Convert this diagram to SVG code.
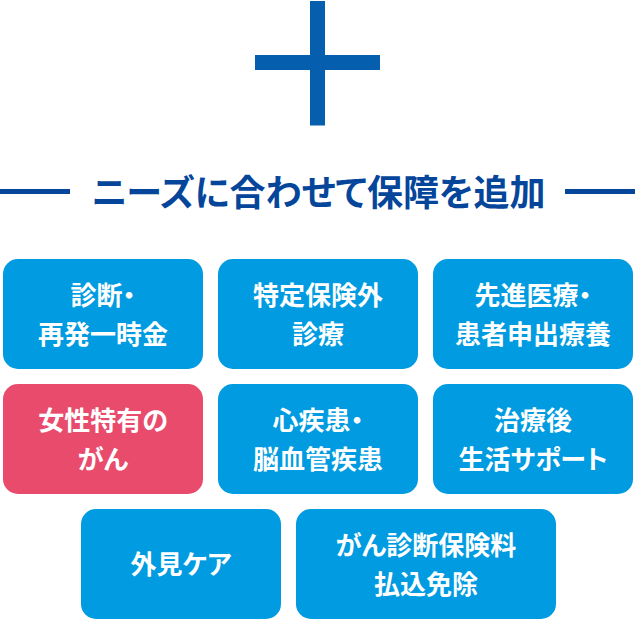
<svg xmlns="http://www.w3.org/2000/svg" width="635" height="619" viewBox="0 0 635 619">
<style>
.t{font-family:"Noto Sans CJK JP","Noto Sans",sans-serif;font-weight:700;font-size:26px;fill:#fff;text-anchor:middle;font-feature-settings:"palt"}
.b{fill:#009be0}
.p{fill:#e94b6c}
.h{font-family:"Noto Sans CJK JP","Noto Sans",sans-serif;font-weight:700;font-size:36px;fill:#05469b;text-anchor:middle;font-feature-settings:"palt"}
.s{fill:#055eae}
.l{fill:#05469b}
</style>
<g id="plus"><rect class="s" x="310" y="1" width="15" height="124.500"/><rect class="s" x="255" y="55" width="125" height="15"/></g>
<g id="heading"><rect class="l" x="0" y="189" width="70" height="5"/><rect class="l" x="565" y="189" width="70" height="5"/><text class="h" x="318.500" y="206">ニーズに合わせて保障を追加</text></g>
<g id="n1"><rect class="b" x="3" y="259" width="200" height="110" rx="15"/><text class="t" x="103" y="305">診断・</text><text class="t" x="103" y="343.500">再発一時金</text></g>
<g id="n2"><rect class="b" x="218" y="259" width="200" height="110" rx="15"/><text class="t" x="318" y="305">特定保険外</text><text class="t" x="318" y="343.500">診療</text></g>
<g id="n3"><rect class="b" x="433" y="259" width="200" height="110" rx="15"/><text class="t" x="533" y="305">先進医療・</text><text class="t" x="533" y="343.500">患者申出療養</text></g>
<g id="n4"><rect class="p" x="3" y="384" width="200" height="110" rx="15"/><text class="t" x="103" y="430">女性特有の</text><text class="t" x="103" y="468.500">がん</text></g>
<g id="n5"><rect class="b" x="218" y="384" width="200" height="110" rx="15"/><text class="t" x="318" y="430">心疾患・</text><text class="t" x="318" y="468.500">脳血管疾患</text></g>
<g id="n6"><rect class="b" x="433" y="384" width="200" height="110" rx="15"/><text class="t" x="533" y="430">治療後</text><text class="t" x="533" y="468.500">生活サポート</text></g>
<g id="n7"><rect class="b" x="81" y="509" width="200" height="110" rx="15"/><text class="t" x="181" y="574">外見ケア</text></g>
<g id="n8"><rect class="b" x="296" y="509" width="260" height="110" rx="15"/><text class="t" x="426" y="555">がん診断保険料</text><text class="t" x="426" y="593.500">払込免除</text></g>
</svg>
